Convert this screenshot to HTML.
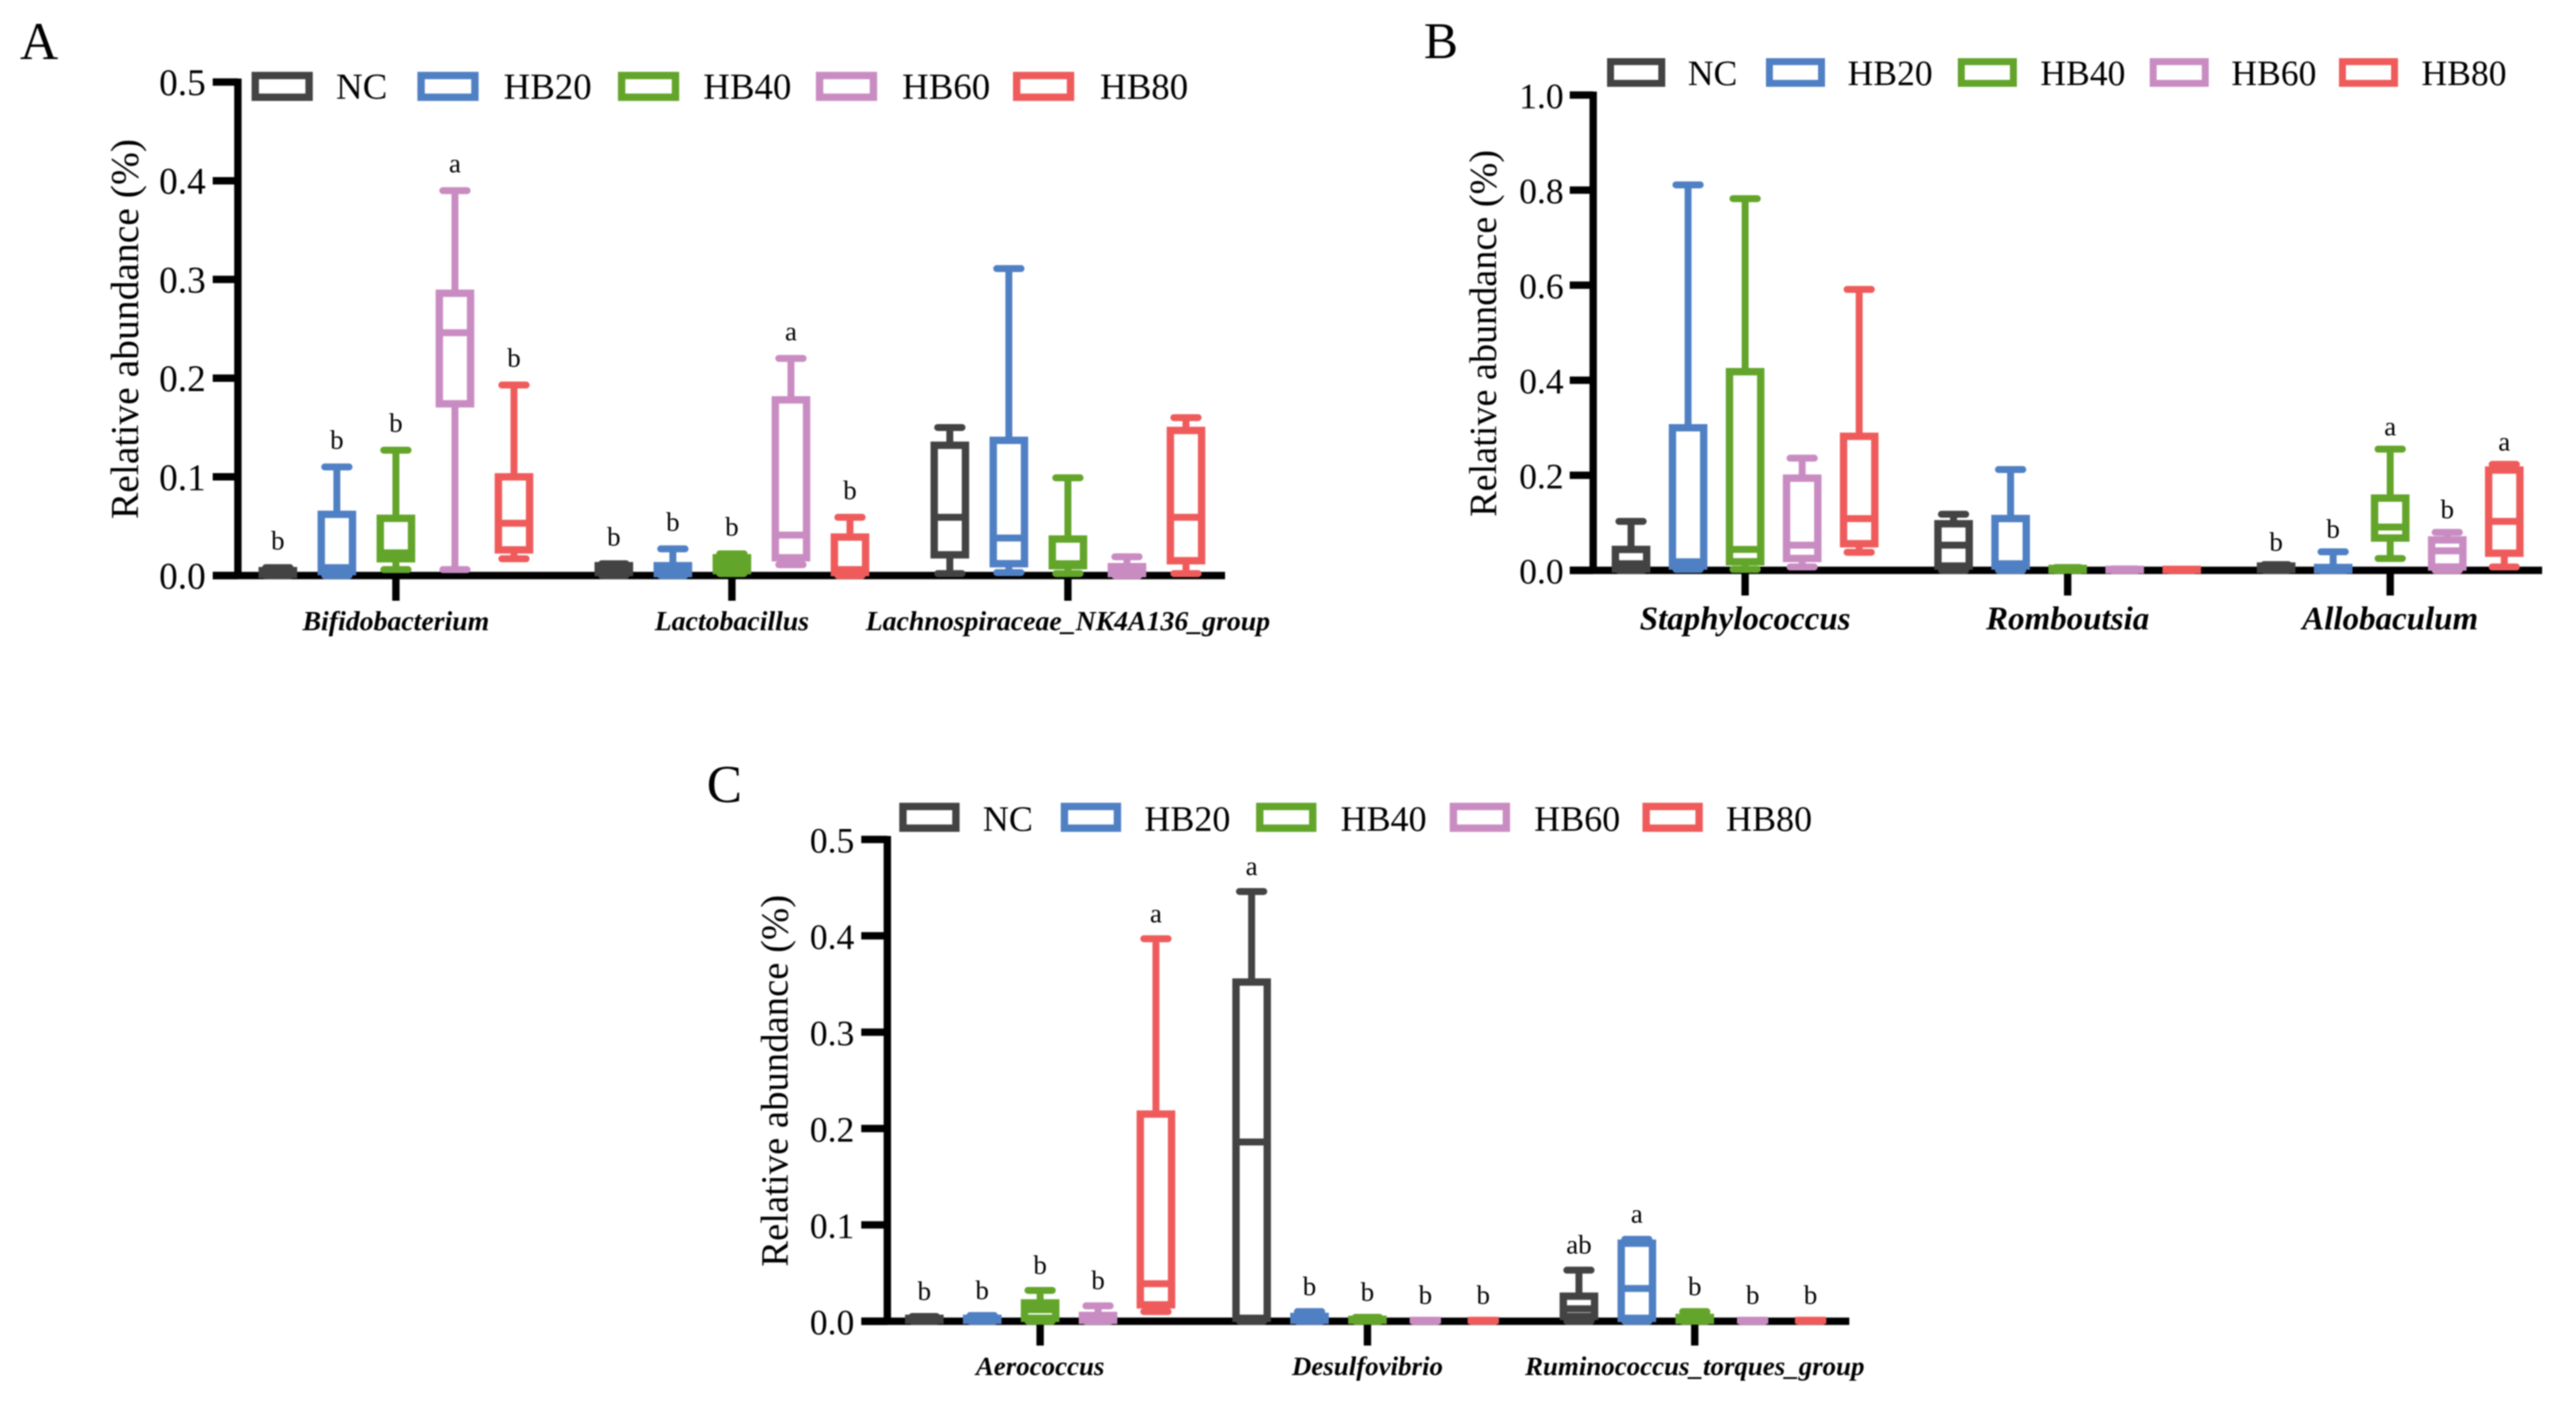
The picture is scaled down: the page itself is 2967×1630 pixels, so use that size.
<!DOCTYPE html>
<html lang="en">
<head>
<meta charset="utf-8">
<title>Relative abundance box plots</title>
<style>
html,body{margin:0;padding:0;background:#fff;}
svg{display:block;filter:blur(0.9px);}
text{font-family:"Liberation Serif",serif;fill:#000;}
</style>
</head>
<body>
<svg id="figure" xmlns="http://www.w3.org/2000/svg" width="2967" height="1630" viewBox="0 0 2967 1630">
  <rect x="0" y="0" width="2967" height="1630" fill="#fff"/>
  <text x="23" y="68" font-size="61">A</text>
  <text x="1640" y="67" font-size="59">B</text>
  <text x="814" y="924" font-size="61">C</text>

  <g id="panel-a"></g>
  <g id="panel-b"></g>
  <g id="panel-c"></g>

  <g font-size="42.5">
    <g><rect x="294" y="87" width="62" height="25" fill="none" stroke="#434343" stroke-width="8.5"/><text x="387" y="114">NC</text></g>
    <g><rect x="485" y="87" width="62" height="25" fill="none" stroke="#5080c4" stroke-width="8.5"/><text x="580" y="114">HB20</text></g>
    <g><rect x="716" y="87" width="62" height="25" fill="none" stroke="#62a52a" stroke-width="8.5"/><text x="810" y="114">HB40</text></g>
    <g><rect x="944" y="87" width="62" height="25" fill="none" stroke="#c98cc2" stroke-width="8.5"/><text x="1039" y="114">HB60</text></g>
    <g><rect x="1171" y="87" width="62" height="25" fill="none" stroke="#ef5b5b" stroke-width="8.5"/><text x="1267" y="114">HB80</text></g>
  </g>
  <g font-size="41">
    <g><rect x="1855" y="71" width="59" height="25" fill="none" stroke="#434343" stroke-width="8"/><text x="1944" y="98">NC</text></g>
    <g><rect x="2038" y="71" width="60" height="25" fill="none" stroke="#5080c4" stroke-width="8"/><text x="2128" y="98">HB20</text></g>
    <g><rect x="2259" y="71" width="60" height="25" fill="none" stroke="#62a52a" stroke-width="8"/><text x="2350" y="98">HB40</text></g>
    <g><rect x="2480" y="71" width="60" height="25" fill="none" stroke="#c98cc2" stroke-width="8"/><text x="2570" y="98">HB60</text></g>
    <g><rect x="2698" y="71" width="60" height="25" fill="none" stroke="#ef5b5b" stroke-width="8"/><text x="2789" y="98">HB80</text></g>
  </g>
  <g font-size="41.5">
    <g><rect x="1040" y="929" width="61" height="25" fill="none" stroke="#434343" stroke-width="8.5"/><text x="1132" y="957">NC</text></g>
    <g><rect x="1226" y="929" width="61" height="25" fill="none" stroke="#5080c4" stroke-width="8.5"/><text x="1318" y="957">HB20</text></g>
    <g><rect x="1451" y="929" width="61" height="25" fill="none" stroke="#62a52a" stroke-width="8.5"/><text x="1544" y="957">HB40</text></g>
    <g><rect x="1674" y="929" width="61" height="25" fill="none" stroke="#c98cc2" stroke-width="8.5"/><text x="1767" y="957">HB60</text></g>
    <g><rect x="1896" y="929" width="61" height="25" fill="none" stroke="#ef5b5b" stroke-width="8.5"/><text x="1988" y="957">HB80</text></g>
  </g>
</svg>
<script>
// Shared series
const seriesNames = ['NC', 'HB20', 'HB40', 'HB60', 'HB80'];
const seriesColors = ['#434343', '#5080c4', '#62a52a', '#c98cc2', '#ef5b5b'];

// Panel A data (values per genus x group)
const aCategories = ['Bifidobacterium', 'Lactobacillus', 'Lachnospiraceae_NK4A136_group'];
const aTicks = [0, 0.1, 0.2, 0.3, 0.4, 0.5];
const aUpper =  [0.008, 0.110, 0.127, 0.390, 0.193,  0.012, 0.027, 0.022, 0.220, 0.059,  0.150, 0.311, 0.099, 0.019, 0.160];
const aQ3 =     [0.005, 0.062, 0.058, 0.286, 0.100,  0.010, 0.010, 0.018, 0.178, 0.039,  0.132, 0.137, 0.037, 0.009, 0.147];
const aMedian = [0.003, 0.008, 0.023, 0.246, 0.053,  0.006, 0.004, 0.012, 0.041, 0.006,  0.059, 0.038, 0.012, 0.005, 0.059];
const aQ1 =     [0.001, 0.004, 0.017, 0.174, 0.026,  0.003, 0.002, 0.005, 0.018, 0.003,  0.021, 0.012, 0.010, 0.002, 0.015];
const aLower =  [0.000, 0.000, 0.006, 0.006, 0.017,  0.000, 0.000, 0.002, 0.011, 0.000,  0.002, 0.003, 0.002, 0.000, 0.002];
const aLetters = ['b', 'b', 'b', 'a', 'b',  'b', 'b', 'b', 'a', 'b',  '', '', '', '', ''];

// Panel B data
const bCategories = ['Staphylococcus', 'Romboutsia', 'Allobaculum'];
const bTicks = [0, 0.2, 0.4, 0.6, 0.8, 1.0];
const bUpper =  [0.103, 0.811, 0.782, 0.236, 0.591,  0.118, 0.212, 0.006, 0.003, 0.002,  0.012, 0.039, 0.255, 0.080, 0.223];
const bQ3 =     [0.044, 0.300, 0.418, 0.194, 0.282,  0.098, 0.109, 0.004, 0.002, 0.002,  0.009, 0.006, 0.152, 0.064, 0.211];
const bMedian = [0.014, 0.018, 0.044, 0.053, 0.109,  0.053, 0.014, 0.002, 0.001, 0.001,  0.004, 0.003, 0.091, 0.041, 0.103];
const bQ1 =     [0.003, 0.009, 0.018, 0.025, 0.056,  0.009, 0.009, 0.001, 0.001, 0.001,  0.002, 0.001, 0.068, 0.007, 0.036];
const bLower =  [0.000, 0.002, 0.002, 0.007, 0.038,  0.000, 0.000, 0.000, 0.000, 0.000,  0.000, 0.000, 0.025, 0.000, 0.007];
const bLetters = ['', '', '', '', '',  '', '', '', '', '',  'b', 'b', 'a', 'b', 'a'];

// Panel C data
const cCategories = ['Aerococcus', 'Desulfovibrio', 'Ruminococcus_torques_group'];
const cTicks = [0, 0.1, 0.2, 0.3, 0.4, 0.5];
const cUpper =  [0.005, 0.006, 0.032, 0.016, 0.397,  0.446, 0.010, 0.004, 0.001, 0.001,  0.053, 0.085, 0.010, 0.001, 0.001];
const cQ3 =     [0.003, 0.003, 0.019, 0.006, 0.215,  0.352, 0.005, 0.002, 0.001, 0.001,  0.026, 0.081, 0.004, 0.001, 0.001];
const cMedian = [0.002, 0.002, 0.012, 0.003, 0.039,  0.186, 0.003, 0.001, 0.001, 0.001,  0.013, 0.034, 0.002, 0.001, 0.001];
const cQ1 =     [0.001, 0.001, 0.003, 0.001, 0.017,  0.003, 0.001, 0.001, 0.001, 0.001,  0.005, 0.003, 0.001, 0.001, 0.001];
const cLower =  [0.000, 0.000, 0.000, 0.000, 0.010,  0.000, 0.000, 0.000, 0.000, 0.000,  0.000, 0.000, 0.000, 0.000, 0.000];
const cLetters = ['b', 'b', 'b', 'b', 'a',  'a', 'b', 'b', 'b', 'b',  'ab', 'a', 'b', 'b', 'b'];

const SVG_NS = 'http://www.w3.org/2000/svg';

function addShape(parent, tag, attrs) {
  const el = document.createElementNS(SVG_NS, tag);
  for (const k in attrs) el.setAttribute(k, attrs[k]);
  parent.appendChild(el);
  return el;
}

function drawPanel(root, layout, d) {
  const yScale = v => layout.y0 - (v / layout.yMax) * (layout.y0 - layout.yTop);
  const groupCenter = g => layout.c0 + g * layout.gStep;
  const boxCenter = (g, s) => groupCenter(g) + (s - 2) * layout.step;

  // x-axis line
  const xAxis = addShape(root, 'line', {x1: layout.tickLeft, x2: layout.xEnd, y1: layout.y0, y2: layout.y0, stroke: '#000', 'stroke-width': 8.5});
  
  

  // y-axis line
  const yAxis = addShape(root, 'line', {x1: layout.x0, x2: layout.x0, y1: layout.yTop - 4, y2: layout.y0 + 4, stroke: '#000', 'stroke-width': 8.5});
  
  

  // y ticks and labels
  d.ticks.forEach(t => {
    const tick = addShape(root, 'line', {x1: layout.tickLeft, x2: layout.x0, y1: yScale(t), y2: yScale(t), stroke: '#000', 'stroke-width': 8.5});
    
    
    const label = addShape(root, 'text', {x: layout.tickTextX, y: yScale(t) + 15, 'font-size': layout.tickFont, 'text-anchor': 'end'});
    label.textContent = t.toFixed(1);
    
    
  });

  // y title
  const title = addShape(root, 'text', {x: layout.titleX, y: layout.titleY, 'font-size': layout.titleFont, 'text-anchor': 'middle', transform: 'rotate(-90 ' + layout.titleX + ' ' + layout.titleY + ')'});
  title.textContent = 'Relative abundance (%)';
  
  

  // categories
  d.categories.forEach((c, g) => {
    const tick = addShape(root, 'line', {x1: groupCenter(g), x2: groupCenter(g), y1: layout.y0, y2: layout.tickBottom, stroke: '#000', 'stroke-width': 8.5});
    
    
    const label = addShape(root, 'text', {x: groupCenter(g), y: layout.catY, 'font-size': layout.catFont, 'text-anchor': 'middle', 'font-weight': 'bold', 'font-style': 'italic'});
    label.textContent = c;
    
    
  });

  // boxes
  d.upper.forEach((hi, i) => {
    const g = Math.floor(i / seriesNames.length);
    const s = i % seriesNames.length;
    const cx = boxCenter(g, s);
    const color = seriesColors[s];
    const half = 18;
    const capHalf = 14;
    const box = addShape(root, 'g', {});
    
    

    const whiskerUp = addShape(box, 'line', {x1: cx, x2: cx, y1: yScale(hi), y2: yScale(d.q3[i]), stroke: color, 'stroke-width': 8});
    
    

    const capUp = addShape(box, 'line', {x1: cx - capHalf, x2: cx + capHalf, y1: yScale(hi), y2: yScale(hi), stroke: color, 'stroke-width': 8, 'stroke-linecap': 'round'});
    
    

    const whiskerDown = addShape(box, 'line', {x1: cx, x2: cx, y1: yScale(d.q1[i]), y2: yScale(d.lower[i]), stroke: color, 'stroke-width': 8});
    
    

    const capDown = addShape(box, 'line', {x1: cx - capHalf, x2: cx + capHalf, y1: yScale(d.lower[i]), y2: yScale(d.lower[i]), stroke: color, 'stroke-width': 8, 'stroke-linecap': 'round'});
    
    

    const body = addShape(box, 'rect', {x: cx - half, y: yScale(d.q3[i]), width: half * 2, height: Math.max(0, yScale(d.q1[i]) - yScale(d.q3[i])), fill: 'none', stroke: color, 'stroke-width': 8.5});
    
    

    const median = addShape(box, 'line', {x1: cx - half, x2: cx + half, y1: yScale(d.median[i]), y2: yScale(d.median[i]), stroke: color, 'stroke-width': 8});
    
    

    if (d.letters[i]) {
      const letter = addShape(root, 'text', {x: cx, y: yScale(hi) - layout.letterGap, 'font-size': layout.letterFont, 'text-anchor': 'middle'});
      letter.textContent = d.letters[i];
      
      
    }
  });
}

drawPanel(document.getElementById('panel-a'),
  {x0: 274, y0: 663, yTop: 94.5, yMax: 0.5, tickLeft: 245, xEnd: 1411, tickTextX: 237, tickFont: 43, titleX: 159, titleY: 379, titleFont: 45.6, c0: 456, gStep: 387, step: 68, tickBottom: 692, catY: 726, catFont: 32, letterGap: 21, letterFont: 31},
  {categories: aCategories, ticks: aTicks, upper: aUpper, q3: aQ3, median: aMedian, q1: aQ1, lower: aLower, letters: aLetters});

drawPanel(document.getElementById('panel-b'),
  {x0: 1835, y0: 657, yTop: 109.5, yMax: 1.0, tickLeft: 1808, xEnd: 2928, tickTextX: 1801, tickFont: 41, titleX: 1723, titleY: 384, titleFont: 44, c0: 2010, gStep: 371.5, step: 65.7, tickBottom: 686, catY: 725, catFont: 38, letterGap: 16, letterFont: 31},
  {categories: bCategories, ticks: bTicks, upper: bUpper, q3: bQ3, median: bMedian, q1: bQ1, lower: bLower, letters: bLetters});

drawPanel(document.getElementById('panel-c'),
  {x0: 1022, y0: 1522, yTop: 967, yMax: 0.5, tickLeft: 992, xEnd: 2130, tickTextX: 984, tickFont: 41, titleX: 907, titleY: 1245, titleFont: 44.6, c0: 1198, gStep: 377, step: 66.7, tickBottom: 1550, catY: 1584, catFont: 31, letterGap: 19, letterFont: 31},
  {categories: cCategories, ticks: cTicks, upper: cUpper, q3: cQ3, median: cMedian, q1: cQ1, lower: cLower, letters: cLetters});
</script>
</body>
</html>
